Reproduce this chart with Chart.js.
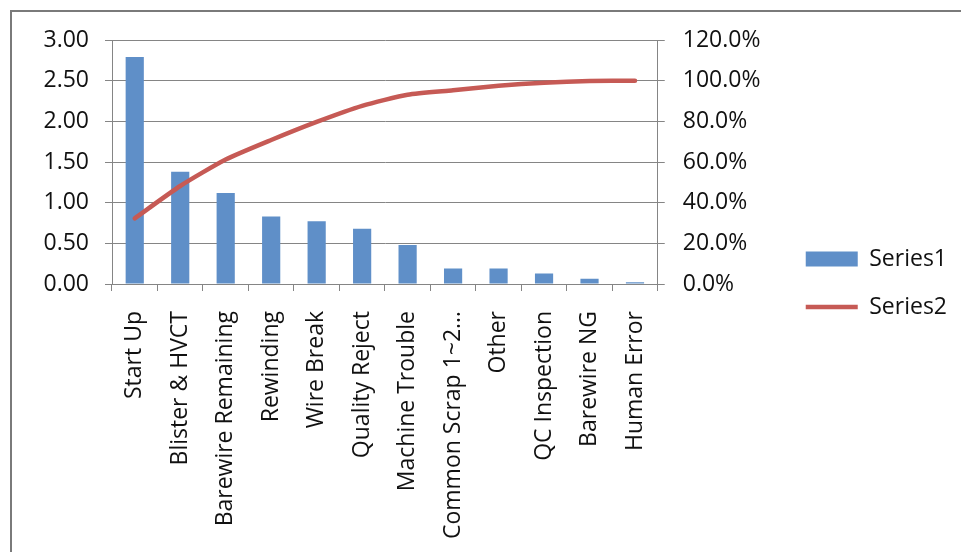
<!DOCTYPE html>
<html>
<head>
<meta charset="utf-8">
<script src="https://cdn.jsdelivr.net/npm/chart.js@4"></script>
<style>
  html, body { margin: 0; padding: 0; background: #fff; }
  .frame {
    position: absolute; left: 10px; top: 10px;
    width: 1000px; height: 600px;
    border: 2px solid #7a7a7a;
  }
  .wrap { position: absolute; left: 0; top: 0; width: 961px; height: 552px; }
</style>
</head>
<body>
<div class="frame"></div>
<div class="wrap"><canvas id="chart" width="961" height="552"></canvas></div>
<script>
// Categories and values
const categories = ['Start Up', 'Blister & HVCT', 'Barewire Remaining', 'Rewinding', 'Wire Break',
    'Quality Reject', 'Machine Trouble', 'Common Scrap 1~2…', 'Other', 'QC Inspection',
    'Barewire NG', 'Human Error'];
const series1 = [2.79, 1.38, 1.12, 0.83, 0.77, 0.68, 0.48, 0.19, 0.19, 0.13, 0.065, 0.02];
// cumulative share (fraction of 1)
const series2 = [0.323, 0.482, 0.612, 0.708, 0.797, 0.876, 0.931, 0.953, 0.975, 0.990, 0.998, 1.000];
const leftTicks = [0, 0.5, 1, 1.5, 2, 2.5, 3];
const rightTicks = [0, 0.2, 0.4, 0.6, 0.8, 1.0, 1.2];

const font = { family: 'Open Sans', size: 23 };
const gridColor = '#858585';

// nudge the legend up a little, it sits above the middle in the original
const legendNudge = {
    id: 'legendNudge',
    afterLayout(chart) {
        const lg = chart.legend;
        if (lg) { lg.top -= 13; lg.bottom -= 13; }
    }
};

function drawChart() {
    const ctx = document.getElementById('chart').getContext('2d');
    new Chart(ctx, {
        type: 'bar',
        data: {
            labels: categories,
            datasets: [{
                label: 'Series1',
                data: series1,
                backgroundColor: '#5f8fc8',
                borderWidth: 0,
                barPercentage: 0.8,
                categoryPercentage: 0.5,
                pointStyle: 'rect',
                yAxisID: 'y',
                order: 1
            }, {
                type: 'line',
                label: 'Series2',
                data: series2,
                borderColor: '#c65a55',
                backgroundColor: '#c65a55',
                borderWidth: 4.5,
                borderCapStyle: 'round',
                tension: 0.2,
                pointRadius: 0,
                pointStyle: 'line',
                yAxisID: 'y1',
                order: 0
            }]
        },
        options: {
            responsive: false,
            animation: false,
            layout: { padding: { left: 40, top: 40, right: 4, bottom: 0 } },
            plugins: {
                tooltip: { enabled: false },
                legend: {
                    position: 'right',
                    maxWidth: 180,
                    labels: {
                        sort: (a, b) => a.datasetIndex - b.datasetIndex,
                        usePointStyle: true,
                        pointStyleWidth: 52,
                        boxHeight: 15,
                        padding: 25,
                        color: '#111',
                        font: font
                    }
                }
            },
            scales: {
                x: {
                    grid: { drawOnChartArea: false, drawTicks: true, tickLength: 7, color: gridColor },
                    border: { color: gridColor },
                    ticks: {
                        autoSkip: false, maxRotation: 90, minRotation: 90,
                        padding: 20, color: '#111', font: font
                    },
                    afterFit: s => { s.height = 268; }
                },
                y: {
                    position: 'left',
                    min: 0, max: 3,
                    afterBuildTicks: s => { s.ticks = leftTicks.map(v => ({ value: v })); },
                    grid: { color: gridColor, tickLength: 7 },
                    border: { color: gridColor },
                    ticks: {
                        padding: 16, color: '#111', font: font,
                        callback: v => v.toFixed(2)
                    },
                    afterFit: s => { s.width = 72; }
                },
                y1: {
                    position: 'right',
                    min: 0, max: 1.2,
                    afterBuildTicks: s => { s.ticks = rightTicks.map(v => ({ value: v })); },
                    grid: { drawOnChartArea: false, color: gridColor, tickLength: 7 },
                    border: { color: gridColor },
                    ticks: {
                        padding: 18, color: '#111', font: font,
                        callback: v => (v * 100).toFixed(1) + '%'
                    },
                    afterFit: s => { s.width = 123; }
                }
            }
        },
        plugins: [legendNudge]
    });
}

// wait for the font so text widths are measured right
document.fonts.load('23px "Open Sans"').then(drawChart, drawChart);
</script>
</body>
</html>
